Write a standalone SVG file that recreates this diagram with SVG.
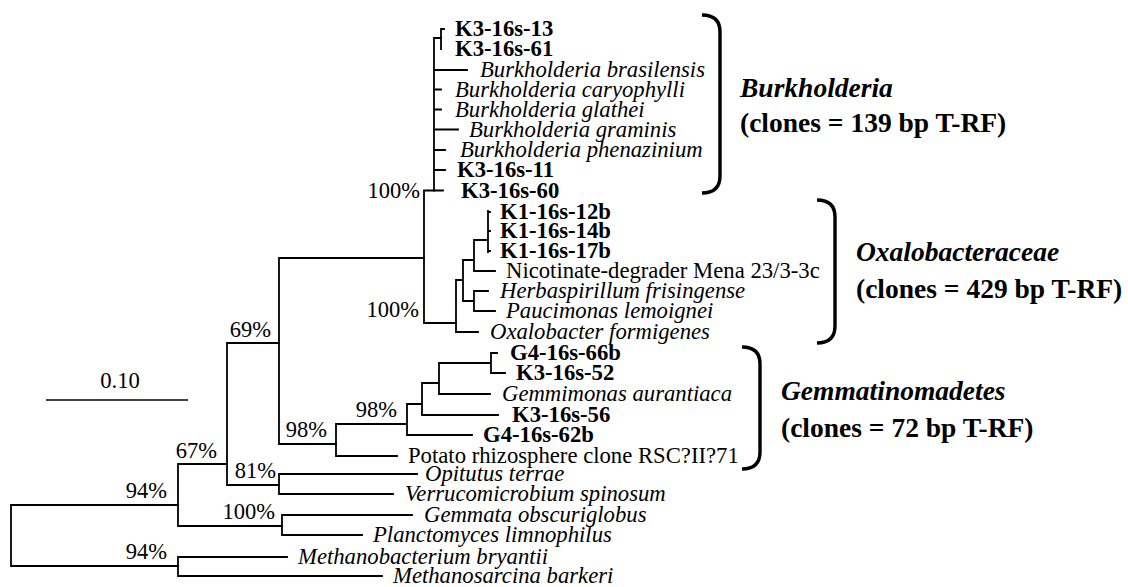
<svg xmlns="http://www.w3.org/2000/svg" width="1128" height="587" viewBox="0 0 1128 587">
<style>
.t{font-family:"Liberation Serif","Times New Roman",serif;font-size:22.7px;fill:#000}
.b{font-weight:bold}
.i{font-style:italic}
.bs{font-family:"Liberation Serif","Times New Roman",serif;font-size:22.5px;fill:#000;text-anchor:end}
.cl{font-family:"Liberation Serif","Times New Roman",serif;font-size:27.5px;font-weight:bold;fill:#000}
.ln{fill:none;stroke:#000;stroke-width:1.8;stroke-linecap:square}
.br{fill:none;stroke:#000;stroke-width:3.4}
</style>
<rect width="1128" height="587" fill="#fff"/>
<g id="connectors" class="ln">
<path d="M11,505V566M11,505H178M11,566H178"/>
<path d="M178,464V526M178,464H227M178,526H282"/>
<path d="M282,515V535M282,515H412M282,535H362"/>
<path d="M178,557V576M178,557H287M178,576H382"/>
<path d="M227,343V485M227,343H279M227,485H279"/>
<path d="M279,474V494M279,474H417M279,494H393"/>
<path d="M279,258V444M279,258H424M279,444H336"/>
<path d="M424,190.5V323M424,190.5H443M424,323H456"/>
<path d="M434,38V190.5M434,38H441M441,29V49M441,29H444M434,70H467M434,89.5H441M434,109.5H441M434,129.5H458M434,150H445M434,170H445"/>
<path d="M456,280V332M456,280H463M456,332H478M463,260V301M463,260H474M463,301H474M474,291V311M474,291H488M474,311H495M474,240V271M474,240H488M474,271H495M488,211V252M488,212H490M488,231H490M488,251H490"/>
<path d="M336,424V456M336,424H407M336,456H397M407,404V435M407,404H422M407,435H472M422,383V415M422,383H439M422,415H498M439,363V394M439,363H491M439,394H490M491,353V373M491,353H497M491,373H505"/>
</g>
<g id="scale"><path d="M46,400H188" stroke="#000" stroke-width="1.3"/><text class="t" x="120" y="388" text-anchor="middle">0.10</text></g>
<g id="bootstrap">
<text class="bs" x="420" y="198">100%</text>
<text class="bs" x="419" y="317">100%</text>
<text class="bs" x="271" y="337">69%</text>
<text class="bs" x="397" y="417">98%</text>
<text class="bs" x="327" y="437">98%</text>
<text class="bs" x="217" y="458">67%</text>
<text class="bs" x="276" y="478">81%</text>
<text class="bs" x="167" y="498">94%</text>
<text class="bs" x="275" y="519">100%</text>
<text class="bs" x="167" y="559">94%</text>
</g>
<g id="n-k3-13"><text class="t b" x="455" y="36">K3-16s-13</text></g>
<g id="n-k3-61"><text class="t b" x="455" y="56">K3-16s-61</text></g>
<g id="n-bbras"><text class="t i" x="480" y="77">Burkholderia brasilensis</text></g>
<g id="n-bcary"><text class="t i" x="455" y="96.5">Burkholderia caryophylli</text></g>
<g id="n-bglat"><text class="t i" x="455" y="116.5">Burkholderia glathei</text></g>
<g id="n-bgram"><text class="t i" x="469" y="136.5">Burkholderia graminis</text></g>
<g id="n-bphen"><text class="t i" x="460" y="157">Burkholderia phenazinium</text></g>
<g id="n-k3-11"><text class="t b" x="457" y="177">K3-16s-11</text></g>
<g id="n-k3-60"><text class="t b" x="461" y="197.5">K3-16s-60</text></g>
<g id="n-k1-12b"><text class="t b" x="500" y="219">K1-16s-12b</text></g>
<g id="n-k1-14b"><text class="t b" x="500" y="238">K1-16s-14b</text></g>
<g id="n-k1-17b"><text class="t b" x="500" y="258">K1-16s-17b</text></g>
<g id="n-nico"><text class="t" x="506" y="278">Nicotinate-degrader Mena 23/3-3c</text></g>
<g id="n-herb"><text class="t i" x="500" y="298">Herbaspirillum frisingense</text></g>
<g id="n-pauc"><text class="t i" x="506" y="318">Paucimonas lemoignei</text></g>
<g id="n-oxal"><text class="t i" x="490" y="339">Oxalobacter formigenes</text></g>
<g id="n-g4-66b"><text class="t b" x="510" y="360">G4-16s-66b</text></g>
<g id="n-k3-52"><text class="t b" x="516" y="380">K3-16s-52</text></g>
<g id="n-gemm"><text class="t i" x="502" y="401">Gemmimonas aurantiaca</text></g>
<g id="n-k3-56"><text class="t b" x="512" y="422">K3-16s-56</text></g>
<g id="n-g4-62b"><text class="t b" x="483" y="442">G4-16s-62b</text></g>
<g id="n-potato"><text class="t" x="408" y="463">Potato rhizosphere clone RSC?II?71</text></g>
<g id="n-opit"><text class="t i" x="425" y="481">Opitutus terrae</text></g>
<g id="n-verr"><text class="t i" x="405" y="501">Verrucomicrobium spinosum</text></g>
<g id="n-gobs"><text class="t i" x="424" y="522">Gemmata obscuriglobus</text></g>
<g id="n-plan"><text class="t i" x="373" y="542">Planctomyces limnophilus</text></g>
<g id="n-mbry"><text class="t i" x="298" y="564">Methanobacterium bryantii</text></g>
<g id="n-mbar"><text class="t i" x="393" y="583">Methanosarcina barkeri</text></g>
<g id="clade-burk">
<path class="br" d="M702,15Q720,15 720,32V176Q720,193 702,193"/>
<text class="cl i" x="740" y="97">Burkholderia</text>
<text class="cl" x="740" y="132">(clones = 139 bp T-RF)</text>
</g>
<g id="clade-oxal">
<path class="br" d="M817,200Q835,200 835,217V326Q835,343 817,343"/>
<text class="cl i" x="856" y="261">Oxalobacteraceae</text>
<text class="cl" x="856" y="298">(clones = 429 bp T-RF)</text>
</g>
<g id="clade-gemm">
<path class="br" d="M742,347Q760,347 760,364V452Q760,469 742,469"/>
<text class="cl i" x="781" y="400">Gemmatinomadetes</text>
<text class="cl" x="781" y="437">(clones = 72 bp T-RF)</text>
</g>
</svg>
